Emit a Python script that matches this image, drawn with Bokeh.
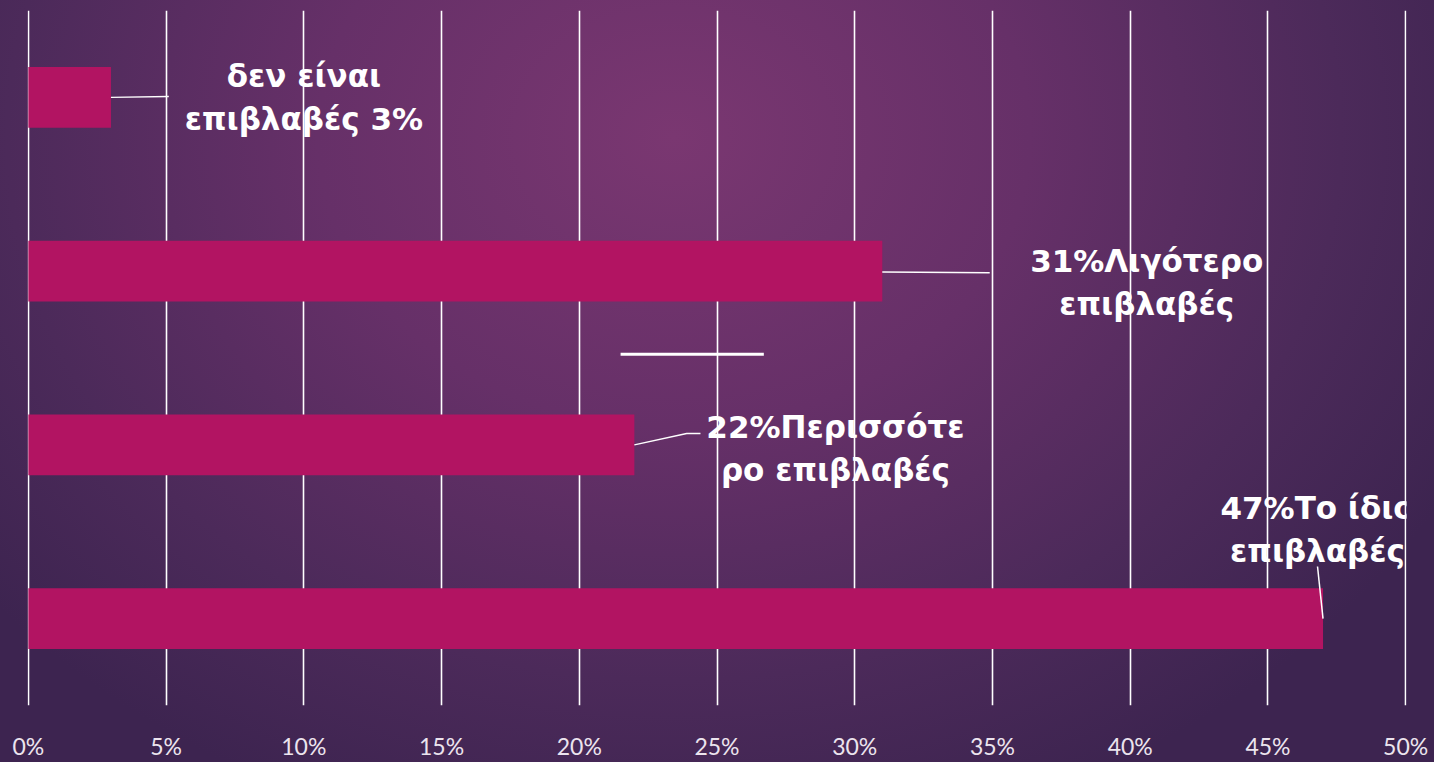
from bokeh.plotting import figure
from bokeh.models import FactorRange, FixedTicker, ColumnDataSource
from bokeh.core.properties import value
from bokeh.embed import file_html
from bokeh.resources import INLINE

# ---- data ----
categories = ["δεν είναι επιβλαβές", "Λιγότερο επιβλαβές", "Περισσότερο επιβλαβές", "Το ίδιο επιβλαβές"]
percent = [3, 31, 22, 47]
labels = ["δεν  είναι\nεπιβλαβές  3%", "31%Λιγότερο\nεπιβλαβές", "22%Περισσότε\nρο επιβλαβές", "47%Το ίδιο\nεπιβλαβές"]
ticks = [0, 5, 10, 15, 20, 25, 30, 35, 40, 45, 50]
tick_labels = ["0%", "5%", "10%", "15%", "20%", "25%", "30%", "35%", "40%", "45%", "50%"]

# label anchor (x in %, y offset in category units)
label_x = [10.2, 40.6, 29.3, 46.8]
label_dy = [0.0, -0.065, -0.02, 0.515]

BAR = "#b21462"
WHITE = "#ffffff"

p = figure(width=1434, height=762, output_backend="svg", toolbar_location=None,
           y_range=FactorRange(factors=list(reversed(categories)), range_padding=0),
           x_range=(-0.03, 50.03))
p.min_border_left = 27
p.min_border_right = 28
p.min_border_top = 10
p.min_border_bottom = 43
p.outline_line_color = None
p.background_fill_alpha = 0
p.border_fill_alpha = 0
p.styles = {"background": "radial-gradient(ellipse 62% 95% at 47% 18%, #7a3771 0%, #663068 40%, #4c2a5a 75%, #3d2450 100%)"}

src = ColumnDataSource(dict(cat=categories, val=percent))
p.hbar(y="cat", right="val", left=0, height=0.35, source=src, color=BAR, line_color=None)

# leader lines
c0, c1, c2, c3 = categories
p.line(x=[percent[0], 5.1], y=[(c0, 0.0), (c0, 0.005)], line_color=WHITE, line_width=1.5)
p.line(x=[percent[1], 34.9], y=[(c1, -0.005), (c1, -0.01)], line_color=WHITE, line_width=1.5)
p.line(x=[percent[2], 23.9, 24.4], y=[(c2, 0.0), (c2, 0.065), (c2, 0.065)], line_color=WHITE, line_width=1.5)
p.line(x=[percent[3], 46.8], y=[(c3, 0.0), (c3, 0.30)], line_color=WHITE, line_width=1.5)
# stray separator line
p.line(x=[21.5, 26.7], y=[(c1, -0.478), (c1, -0.478)], line_color=WHITE, line_width=3)

tsrc = ColumnDataSource(dict(x=label_x, y=[(c, d) for c, d in zip(categories, label_dy)], t=labels))
p.text(x="x", y="y", text="t", source=tsrc, text_color=WHITE, text_font=value("DejaVu Sans"),
       text_font_style="bold", text_font_size="31px", text_align="center", text_baseline="middle",
       text_line_height=1.2)

# axes / grid
p.yaxis.visible = False
p.ygrid.grid_line_color = None
p.xgrid.grid_line_color = WHITE
p.xgrid.grid_line_width = 1.6
p.xgrid.grid_line_alpha = 1.0
p.xaxis.ticker = FixedTicker(ticks=ticks)
p.xaxis.major_label_overrides = {t: l for t, l in zip(ticks, tick_labels)}
p.xaxis.axis_line_color = None
p.xaxis.major_tick_line_color = None
p.xaxis.minor_tick_line_color = None
p.xaxis.major_label_text_color = "#ece4ee"
p.xaxis.major_label_text_font = "Lato"
p.xaxis.major_label_text_font_size = "23px"
p.xaxis.major_label_standoff = 20

open("out.html", "w").write(file_html(p, INLINE))
